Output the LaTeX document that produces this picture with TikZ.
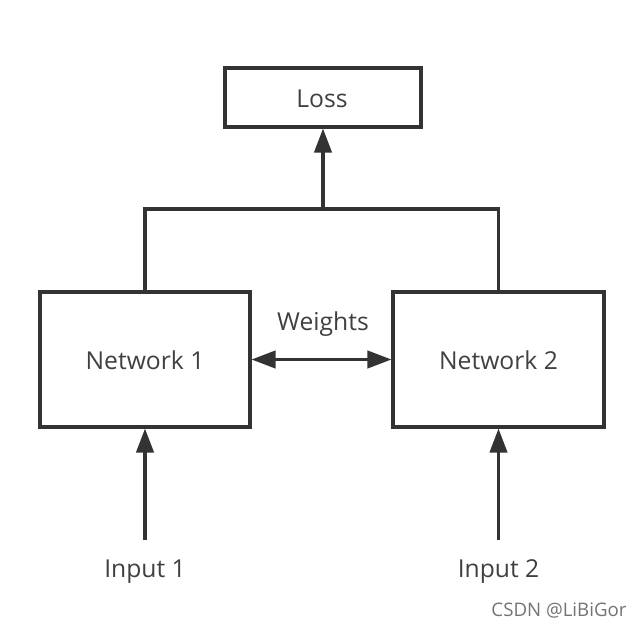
\documentclass[tikz,border=0pt]{standalone}
\usepackage{fontspec}
\setmainfont{Open Sans}
\usetikzlibrary{arrows.meta}

\begin{document}
\begin{tikzpicture}[x=0.75pt,y=0.75pt,yscale=-1,xscale=1,
    box/.style={draw=black!80, line width=2.3pt, inner sep=0pt},
    lbl/.style={text=black!75, font=\fontsize{18.5}{21}\selectfont, inner sep=1pt},
    arr/.style={draw=black!80, line width=2.3pt, -{Triangle[length=18pt,width=13pt]}}]
    \useasboundingbox (0,0) rectangle (644,628);

    % Boxes
    \node [box, minimum width=196*0.75pt, minimum height=59*0.75pt] (loss) at (323,97.5) {};
    \node [lbl] (losstxt) at (322,99) {Loss};
    \node [box, minimum width=210*0.75pt, minimum height=135*0.75pt] (net1) at (145,359.5) {};
    \node [lbl] (net1txt) at (145,360) {Network 1};
    \node [box, minimum width=211*0.75pt, minimum height=135*0.75pt] (net2) at (498.5,359.5) {};
    \node [lbl] (net2txt) at (498.5,360) {Network 2};

    % Text Nodes
    \node [lbl] (weights) at (323,324) {Weights};
    \node [lbl] (in1) at (145,572) {Input 1};
    \node [lbl] (in2) at (498.5,572) {Input 2};
    \node [text=black!55, font=\fontsize{14}{16}\selectfont, inner sep=0pt] (mark) at (559,610) {CSDN @LiBiGor};

    % Connectors
    \coordinate (join) at (323,209);
    \draw [draw=black!80, line width=2.3pt] (net1.north) |- (join) -| (net2.north);
    \draw [arr] (join) -- (loss.south);
    \draw [arr, {Triangle[length=18pt,width=13pt]}-{Triangle[length=18pt,width=13pt]}] (net1.east) -- (net2.west);
    \draw [arr, shorten <=14pt] (in1.north) -- (net1.south);
    \draw [arr, shorten <=14pt] (in2.north) -- (net2.south);

\end{tikzpicture}
\end{document}
